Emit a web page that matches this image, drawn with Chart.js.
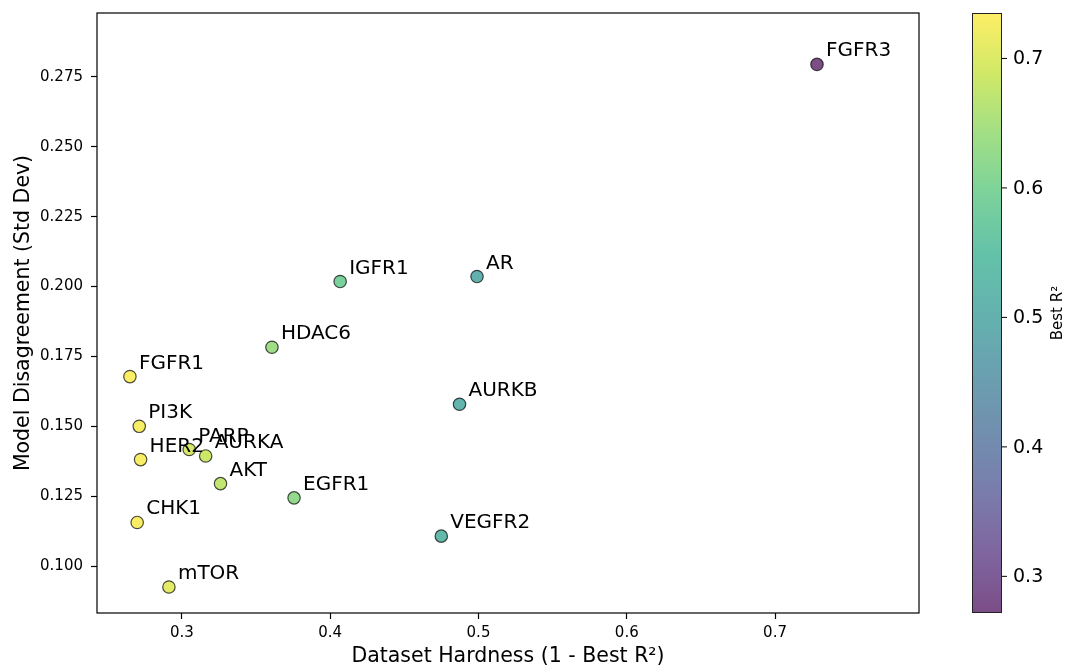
<!DOCTYPE html>
<html>
<head>
<meta charset="utf-8">
<script src="https://cdn.jsdelivr.net/npm/chart.js@4.4.1/dist/chart.umd.min.js"></script>
<style>
  html, body { margin: 0; padding: 0; background: #ffffff; }
  #wrap { width: 1068px; height: 667px; position: relative; }
</style>
</head>
<body>
<div id="wrap"><canvas id="chart"></canvas></div>
<script>
// Target names and their measurements
const targets = ['FGFR3', 'AR', 'IGFR1', 'HDAC6', 'FGFR1', 'AURKB', 'PI3K', 'PARP',
                 'AURKA', 'HER2', 'AKT', 'EGFR1', 'VEGFR2', 'CHK1', 'mTOR'];
const hardness = [0.7283, 0.4990, 0.4067, 0.3607, 0.2649, 0.4872, 0.2712, 0.3049,
                  0.3160, 0.2721, 0.3260, 0.3756, 0.4749, 0.2698, 0.2912];
const disagreement = [0.2795, 0.2036, 0.2018, 0.1783, 0.1678, 0.1579, 0.1500, 0.1417,
                      0.1394, 0.1381, 0.1295, 0.1244, 0.1107, 0.1156, 0.0925];
// Best R² is the complement of hardness
const bestR2 = hardness.map(h => 1 - h);

// Axis limits and tick labels
const xLimits = [0.2427, 0.7971];
const yLimits = [0.0832, 0.2979];
const xTicks = [0.3, 0.4, 0.5, 0.6, 0.7];
const yTicks = [0.100, 0.125, 0.150, 0.175, 0.200, 0.225, 0.250, 0.275];
const cbTicks = [0.3, 0.4, 0.5, 0.6, 0.7];

// Viridis colour map stops
const viridis = [
  [0.0, [68, 1, 84]], [0.1, [72, 36, 117]], [0.2, [65, 68, 135]], [0.3, [53, 95, 141]],
  [0.4, [42, 120, 142]], [0.5, [33, 145, 140]], [0.6, [34, 168, 132]], [0.7, [68, 191, 112]],
  [0.8, [122, 209, 81]], [0.9, [189, 223, 38]], [1.0, [253, 231, 37]]
];
function viridisAt(t) {
  t = Math.max(0, Math.min(1, t));
  for (let i = 1; i < viridis.length; i++) {
    const [t1, c1] = viridis[i];
    const [t0, c0] = viridis[i - 1];
    if (t <= t1) {
      const f = (t - t0) / (t1 - t0);
      return c0.map((v, k) => Math.round(v + (c1[k] - v) * f));
    }
  }
  return viridis[viridis.length - 1][1];
}
const ALPHA = 0.7;
const vmin = Math.min(...bestR2);
const vmax = Math.max(...bestR2);
const rgba = (c, a) => `rgba(${c[0]},${c[1]},${c[2]},${a})`;
const pointColors = bestR2.map(v => rgba(viridisAt((v - vmin) / (vmax - vmin)), ALPHA));

const FONT = "'DejaVu Sans', sans-serif";

// Black frame round the plotting area
const framePlugin = {
  id: 'frame',
  afterDatasetsDraw(chart) {
    const { ctx, chartArea: a } = chart;
    ctx.save();
    ctx.strokeStyle = '#000';
    ctx.lineWidth = 1.2;
    ctx.strokeRect(a.left, a.top, a.right - a.left, a.bottom - a.top);
    ctx.restore();
  }
};

// Target name next to each point
const labelPlugin = {
  id: 'pointLabels',
  afterDatasetsDraw(chart) {
    const { ctx } = chart;
    const meta = chart.getDatasetMeta(0);
    ctx.save();
    ctx.font = `20px ${FONT}`;
    ctx.fillStyle = '#000';
    ctx.textAlign = 'left';
    ctx.textBaseline = 'alphabetic';
    meta.data.forEach((el, i) => {
      ctx.fillText(targets[i], el.x + 9, el.y - 8);
    });
    ctx.restore();
  }
};

// Colour bar for Best R², mapped through the hidden 'cb' scale
const colorbarPlugin = {
  id: 'colorbar',
  afterDraw(chart) {
    const { ctx } = chart;
    const s = chart.scales.cb;
    const x0 = 972, x1 = 1002;
    const yTop = s.getPixelForValue(vmax);
    const yBot = s.getPixelForValue(vmin);
    ctx.save();
    const g = ctx.createLinearGradient(0, yBot, 0, yTop);
    for (let i = 0; i <= 40; i++) {
      const t = i / 40;
      g.addColorStop(t, rgba(viridisAt(t), ALPHA));
    }
    ctx.fillStyle = g;
    ctx.fillRect(x0, yTop, x1 - x0, yBot - yTop);
    ctx.strokeStyle = '#222';
    ctx.lineWidth = 1;
    ctx.strokeRect(x0 + 0.5, yTop + 0.5, x1 - x0 - 1, yBot - yTop - 1);

    ctx.fillStyle = '#000';
    ctx.strokeStyle = '#000';
    ctx.font = `19px ${FONT}`;
    ctx.textAlign = 'left';
    ctx.textBaseline = 'middle';
    cbTicks.forEach(v => {
      const y = s.getPixelForValue(v);
      ctx.beginPath();
      ctx.moveTo(x1, y);
      ctx.lineTo(x1 + 5, y);
      ctx.stroke();
      ctx.fillText(v.toFixed(1), x1 + 11, y + 1);
    });

    ctx.translate(1058, (yTop + yBot) / 2);
    ctx.rotate(-Math.PI / 2);
    ctx.font = `15px ${FONT}`;
    ctx.textAlign = 'center';
    ctx.textBaseline = 'middle';
    ctx.fillText('Best R²', 0, 0);
    ctx.restore();
  }
};

new Chart(document.getElementById('chart'), {
  type: 'scatter',
  data: {
    datasets: [{
      data: hardness.map((h, i) => ({ x: h, y: disagreement[i] })),
      backgroundColor: pointColors,
      borderColor: 'rgba(0,0,0,0.7)',
      borderWidth: 1.2,
      pointRadius: 6.2,
      pointHoverRadius: 6.2
    }]
  },
  options: {
    responsive: true,
    maintainAspectRatio: false,
    animation: false,
    devicePixelRatio: 1,
    layout: { padding: { left: 0, top: 13, right: 149, bottom: 0 } },
    plugins: { legend: { display: false }, tooltip: { enabled: false } },
    scales: {
      x: {
        type: 'linear',
        position: 'bottom',
        min: xLimits[0],
        max: xLimits[1],
        afterBuildTicks: s => { s.ticks = xTicks.map(v => ({ value: v })); },
        afterFit: s => { s.height = 54; s.paddingLeft = 0; s.paddingRight = 0; },
        ticks: {
          color: '#000',
          font: { family: FONT, size: 15 },
          padding: 5,
          maxRotation: 0,
          callback: v => v.toFixed(1)
        },
        grid: { display: true, drawOnChartArea: false, drawTicks: true, tickLength: 6, tickColor: '#000', tickWidth: 1.2 },
        border: { display: false },
        title: {
          display: true,
          text: 'Dataset Hardness (1 - Best R²)',
          color: '#000',
          font: { family: FONT, size: 20.5 },
          padding: { top: 0, bottom: -2 }
        }
      },
      y: {
        type: 'linear',
        position: 'left',
        min: yLimits[0],
        max: yLimits[1],
        afterBuildTicks: s => { s.ticks = yTicks.map(v => ({ value: v })); },
        afterFit: s => { s.width = 97; s.paddingTop = 0; s.paddingBottom = 0; },
        ticks: {
          color: '#000',
          font: { family: FONT, size: 15 },
          padding: 8,
          callback: v => v.toFixed(3)
        },
        grid: { display: true, drawOnChartArea: false, drawTicks: true, tickLength: 6, tickColor: '#000', tickWidth: 1.2 },
        border: { display: false },
        title: {
          display: true,
          text: 'Model Disagreement (Std Dev)',
          color: '#000',
          font: { family: FONT, size: 20.5 },
          padding: { top: 11, bottom: 0 }
        }
      },
      cb: {
        type: 'linear',
        position: 'right',
        display: false,
        min: vmin,
        max: vmax
      }
    }
  },
  plugins: [framePlugin, labelPlugin, colorbarPlugin]
});
</script>
</body>
</html>
